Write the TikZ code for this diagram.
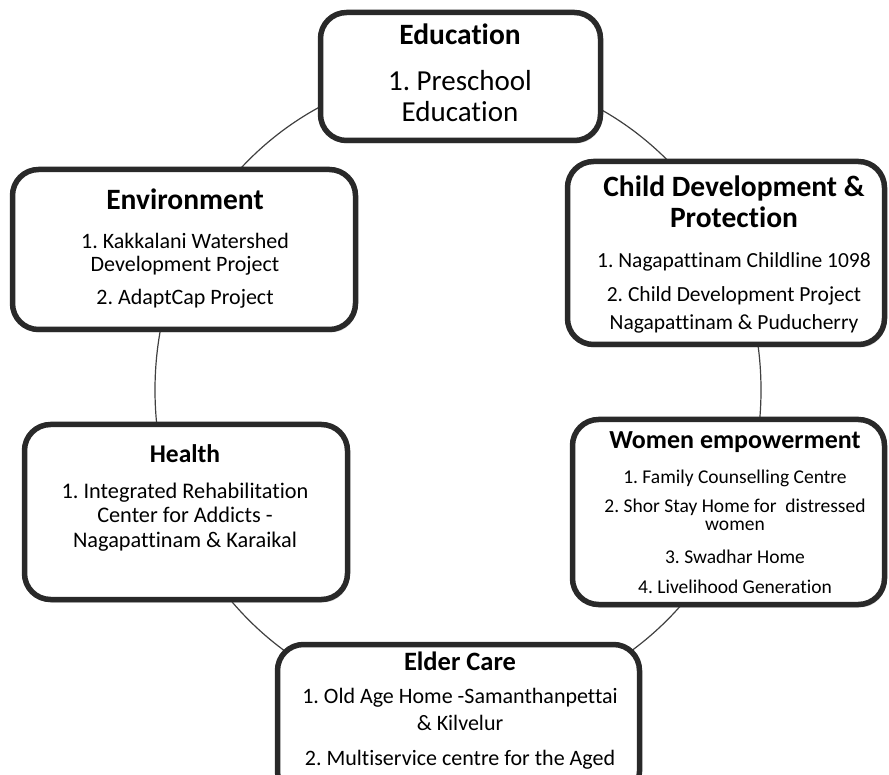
\documentclass[tikz,border=0pt]{standalone}
\usepackage{fontspec}
\setmainfont{Carlito}[Ligatures={NoCommon}]
\usetikzlibrary{shadows}
\frenchspacing
\begin{document}
\begin{tikzpicture}[x=1pt,y=1pt,
  box/.style={draw=black!84, line width=5.5pt, rounded corners=26pt, fill=white,
    drop shadow={shadow xshift=1.5pt, shadow yshift=-3pt, opacity=0.35}},
  ring/.style={draw=black!75, line width=1.2pt},
  txt/.style={anchor=base, inner sep=0pt, text=black},
  ttl/.style={txt, font=\bfseries\fontsize{#1}{#1}\selectfont},
  bdy/.style={txt, font=\fontsize{#1}{#1}\selectfont}]
\useasboundingbox (0,0) rectangle (889,-775);
\coordinate (ctr) at (458,-390);
\draw[ring] (ctr) ellipse [x radius=303, y radius=318];
% boxes
\node[box, minimum width=280, minimum height=128] (edu) at (460.5,-76.5) {};
\node[box, minimum width=343, minimum height=160] (env) at (184,-249.5) {};
\node[box, minimum width=317, minimum height=183] (child) at (726,-253) {};
\node[box, minimum width=312, minimum height=185] (women) at (728.5,-512) {};
\node[box, minimum width=323, minimum height=175] (health) at (186,-512) {};
\node[box, minimum width=362, minimum height=153] (elder) at (458.5,-721) {};
% Education
\node[ttl=29.5] (edut) at (460,-45) {Education};
\node[bdy=29] (edu1) at (460,-91) {1. Preschool};
\node[bdy=29] (edu2) at (460,-122) {Education};
% Environment
\node[ttl=29.5] (envt) at (185,-210) {Environment};
\node[bdy=22] (env1) at (185,-249) {1. Kakkalani Watershed};
\node[bdy=22] (env2) at (185,-272) {Development Project};
\node[bdy=22] (env3) at (185,-305) {2. AdaptCap Project};
% Child
\node[ttl=29.5] (cht1) at (734,-197) {Child Development \&};
\node[ttl=29.5] (cht2) at (734,-228) {Protection};
\node[bdy=21.5] (ch1) at (734,-268) {1. Nagapattinam Childline 1098};
\node[bdy=21.5] (ch2) at (734,-302) {2. Child Development Project};
\node[bdy=21.5] (ch3) at (734,-330) {Nagapattinam \& Puducherry};
% Women
\node[ttl=26] (wot) at (735,-448) {Women empowerment};
\node[bdy=19.5] (wo1) at (735,-483) {1. Family Counselling Centre};
\node[bdy=19.5] (wo2) at (735,-512) {2. Shor Stay Home for\ \ distressed};
\node[bdy=19.5] (wo3) at (735,-530) {women};
\node[bdy=19.5] (wo4) at (735,-563) {3. Swadhar Home};
\node[bdy=19.5] (wo5) at (735,-593) {4. Livelihood Generation};
% Health
\node[ttl=25.5] (het) at (185,-462) {Health};
\node[bdy=22.3] (he1) at (185,-498) {1. Integrated Rehabilitation};
\node[bdy=22.3] (he2) at (185,-522) {Center for Addicts -};
\node[bdy=22.3] (he3) at (185,-547) {Nagapattinam \& Karaikal};
% Elder
\node[ttl=26.5] (elt) at (460,-670) {Elder Care};
\node[bdy=22] (el1) at (460,-703) {1. Old Age Home -Samanthanpettai};
\node[bdy=22] (el2) at (460,-730) {\& Kilvelur};
\node[bdy=22] (el3) at (460,-765) {2. Multiservice centre for the Aged};
\end{tikzpicture}
\end{document}
